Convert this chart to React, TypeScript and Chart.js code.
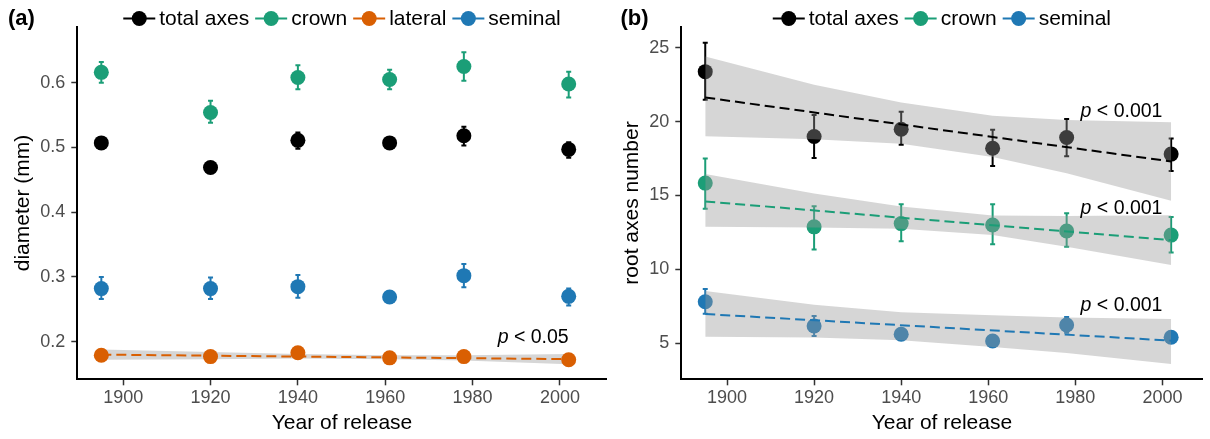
import React, { useEffect, useRef } from "react";
import { Chart, registerables } from "chart.js";

Chart.register(...registerables);

const FONT = "'Liberation Sans', Arial, Helvetica, sans-serif";

// ---------- shared ----------
const YEARS = [1895, 1920, 1940, 1961, 1978, 2002];
const TREND_YEARS = [1895, 2002];
const X_TICKS = [1900, 1920, 1940, 1960, 1980, 2000];
const A_Y_TICKS = [0.2, 0.3, 0.4, 0.5, 0.6];
const B_Y_TICKS = [5, 10, 15, 20, 25];
const A_LABELS = ["total axes", "crown", "lateral", "seminal"];
const B_LABELS = ["total axes", "crown", "seminal"];

// ---------- panel (a): diameter (mm) ----------
const A_TOTAL = [0.507, 0.469, 0.511, 0.507, 0.518, 0.497];
const A_TOTAL_LO = [0.502, 0.465, 0.498, 0.503, 0.503, 0.484];
const A_TOTAL_HI = [0.512, 0.473, 0.523, 0.511, 0.532, 0.508];
const A_CROWN = [0.616, 0.554, 0.608, 0.605, 0.625, 0.598];
const A_CROWN_LO = [0.6, 0.538, 0.59, 0.59, 0.603, 0.577];
const A_CROWN_HI = [0.632, 0.572, 0.627, 0.62, 0.647, 0.617];
const A_LATERAL = [0.179, 0.177, 0.183, 0.175, 0.177, 0.172];
const A_LATERAL_LO = [0.176, 0.174, 0.18, 0.172, 0.174, 0.169];
const A_LATERAL_HI = [0.182, 0.18, 0.186, 0.178, 0.18, 0.175];
const A_SEMINAL = [0.282, 0.282, 0.285, 0.269, 0.302, 0.27];
const A_SEMINAL_LO = [0.266, 0.266, 0.268, 0.265, 0.284, 0.256];
const A_SEMINAL_HI = [0.3, 0.299, 0.303, 0.273, 0.32, 0.282];
const A_LATERAL_TREND = [0.18, 0.173];
const A_LATERAL_RIB_HI = [0.188, 0.184, 0.181, 0.179, 0.179, 0.181];
const A_LATERAL_RIB_LO = [0.172, 0.173, 0.174, 0.173, 0.171, 0.165];

// ---------- panel (b): root axes number ----------
const B_TOTAL = [23.38, 18.99, 19.48, 18.2, 18.92, 17.8];
const B_TOTAL_LO = [21.47, 17.53, 18.43, 16.99, 17.66, 16.65];
const B_TOTAL_HI = [25.34, 20.45, 20.66, 19.44, 20.18, 18.85];
const B_CROWN = [15.84, 12.88, 13.1, 13.0, 12.6, 12.32];
const B_CROWN_LO = [14.1, 11.35, 11.9, 11.7, 11.53, 11.15];
const B_CROWN_HI = [17.5, 14.28, 14.4, 14.4, 13.8, 13.55];
const B_SEMINAL = [7.81, 6.17, 5.61, 5.16, 6.24, 5.41];
const B_SEMINAL_LO = [7.0, 5.5, 5.35, 4.95, 5.71, 5.1];
const B_SEMINAL_HI = [8.67, 6.85, 5.9, 5.35, 6.78, 5.7];
const B_TOTAL_TREND = [21.63, 17.3];
const B_TOTAL_RIB_HI = [24.4, 22.5, 21.3, 20.4, 20.1, 19.95];
const B_TOTAL_RIB_LO = [19.0, 18.8, 18.5, 17.6, 16.5, 14.65];
const B_CROWN_TREND = [14.6, 11.98];
const B_CROWN_RIB_HI = [16.45, 15.14, 14.25, 13.64, 13.61, 13.67];
const B_CROWN_RIB_LO = [12.88, 12.84, 12.75, 12.32, 11.53, 10.29];
const B_SEMINAL_TREND = [6.98, 5.18];
const B_SEMINAL_RIB_HI = [8.53, 7.6, 7.1, 6.9, 6.75, 6.64];
const B_SEMINAL_RIB_LO = [5.45, 5.4, 5.2, 4.75, 4.35, 3.6];

// p-value annotations (data coordinates, right aligned)
const A_P_LABELS = [{ x: 2002, y: 0.2057, text: "< 0.05" }];
const B_P_LABELS = [
  { x: 2000, y: 20.67, text: "< 0.001" },
  { x: 2000, y: 14.13, text: "< 0.001" },
  { x: 2000, y: 7.52, text: "< 0.001" },
];

const COLORS: Record<string, string> = {
  "total axes": "#000000",
  crown: "#1b9e77",
  lateral: "#d95f02",
  seminal: "#1f78b4",
};
const RIBBON = "rgba(153,153,153,0.4)";
const POINT_R = 7.5;

const pts = (xs: number[], ys: number[]) => xs.map((x, i) => ({ x, y: ys[i] }));

function pointSet(label: string, ys: number[], lo: number[], hi: number[], order: number) {
  return {
    type: "scatter",
    label,
    data: pts(YEARS, ys),
    errLo: lo,
    errHi: hi,
    backgroundColor: COLORS[label],
    borderColor: COLORS[label],
    pointRadius: POINT_R,
    pointHoverRadius: POINT_R,
    pointBorderWidth: 0,
    showLine: false,
    order,
  };
}
function trendSet(label: string, ys: number[], order: number) {
  return {
    type: "line",
    label: label + " trend",
    data: pts(TREND_YEARS, ys),
    borderColor: COLORS[label],
    borderWidth: 2,
    borderDash: [10, 5],
    pointRadius: 0,
    fill: false,
    order,
  };
}
function ribbonSets(label: string, hi: number[], lo: number[], order: number) {
  return [
    {
      type: "line",
      label: label + " ci hi",
      data: pts(YEARS, hi),
      borderWidth: 0,
      borderColor: "rgba(0,0,0,0)",
      backgroundColor: RIBBON,
      pointRadius: 0,
      fill: "+1",
      order,
    },
    {
      type: "line",
      label: label + " ci lo",
      data: pts(YEARS, lo),
      borderWidth: 0,
      borderColor: "rgba(0,0,0,0)",
      pointRadius: 0,
      fill: false,
      order,
    },
  ];
}

const errorBars = {
  id: "errorBars",
  beforeDatasetDraw(chart: any, args: any) {
    const ds: any = chart.data.datasets[args.index];
    if (!ds.errLo) return;
    const { ctx } = chart;
    const xs = chart.scales.x;
    const ys = chart.scales.y;
    const cap = 2.5;
    ctx.save();
    ctx.strokeStyle = ds.borderColor;
    ctx.lineWidth = 2;
    ds.data.forEach((p: any, i: number) => {
      const px = xs.getPixelForValue(p.x);
      const y1 = ys.getPixelForValue(ds.errLo[i]);
      const y2 = ys.getPixelForValue(ds.errHi[i]);
      ctx.beginPath();
      ctx.moveTo(px, y1);
      ctx.lineTo(px, y2);
      ctx.moveTo(px - cap, y1);
      ctx.lineTo(px + cap, y1);
      ctx.moveTo(px - cap, y2);
      ctx.lineTo(px + cap, y2);
      ctx.stroke();
    });
    ctx.restore();
  },
};

function decor(panelLabel: string, labelX: number, labels: string[], pLabels: any[]) {
  return {
    id: "decor",
    afterDraw(chart: any) {
      const { ctx, chartArea: area } = chart;
      ctx.save();
      ctx.textBaseline = "middle";
      ctx.textAlign = "left";
      ctx.fillStyle = "#000";
      ctx.font = `bold 22px ${FONT}`;
      ctx.fillText(panelLabel, labelX, 19);

      ctx.font = `21px ${FONT}`;
      const KEY = 32, GAP_KT = 4, GAP_IT = 6;
      const widths = labels.map((l) => ctx.measureText(l).width);
      const total =
        widths.reduce((a, b) => a + b, 0) + labels.length * (KEY + GAP_KT) + (labels.length - 1) * GAP_IT;
      let x = (area.left + area.right) / 2 - total / 2;
      const y = 18.5;
      labels.forEach((l, i) => {
        const c = COLORS[l];
        ctx.strokeStyle = c;
        ctx.lineWidth = 2;
        ctx.beginPath();
        ctx.moveTo(x, y);
        ctx.lineTo(x + KEY, y);
        ctx.stroke();
        ctx.fillStyle = c;
        ctx.beginPath();
        ctx.arc(x + KEY / 2, y, POINT_R, 0, Math.PI * 2);
        ctx.fill();
        x += KEY + GAP_KT;
        ctx.fillStyle = "#000";
        ctx.fillText(l, x, y + 1);
        x += widths[i] + GAP_IT;
      });

      pLabels.forEach((p) => {
        const px = chart.scales.x.getPixelForValue(p.x);
        const py = chart.scales.y.getPixelForValue(p.y);
        ctx.fillStyle = "#000";
        ctx.textAlign = "right";
        ctx.font = `19.5px ${FONT}`;
        const rest = " " + p.text;
        const wr = ctx.measureText(rest).width;
        ctx.fillText(rest, px, py);
        ctx.font = `italic 19.5px ${FONT}`;
        ctx.fillText("p", px - wr, py);
      });
      ctx.restore();
    },
  };
}

function makeScales(o: {
  xMin: number; xMax: number; yMin: number; yMax: number; yTicks: number[];
  yTitle: string; yFmt: (v: number) => string; yWidth: number; yTitlePad: number;
}) {
  return {
    x: {
      type: "linear",
      min: o.xMin,
      max: o.xMax,
      afterBuildTicks: (s: any) => {
        s.ticks = X_TICKS.map((v) => ({ value: v }));
      },
      afterFit: (s: any) => {
        s.height = 59.7;
      },
      ticks: {
        font: { family: FONT, size: 18 },
        color: "#4d4d4d",
        padding: 2,
        autoSkip: false,
        maxRotation: 0,
        callback: (v: any) => String(v),
      },
      grid: { display: true, drawOnChartArea: false, drawTicks: true, tickLength: 6, tickColor: "#333", tickWidth: 1.5 },
      border: { display: true, color: "#000", width: 2 },
      title: {
        display: true,
        text: "Year of release",
        font: { family: FONT, size: 21 },
        color: "#000",
        padding: { top: 0, bottom: 3.4 },
      },
    },
    y: {
      type: "linear",
      min: o.yMin,
      max: o.yMax,
      afterBuildTicks: (s: any) => {
        s.ticks = o.yTicks.map((v) => ({ value: v }));
      },
      afterFit: (s: any) => {
        s.width = o.yWidth;
      },
      ticks: {
        font: { family: FONT, size: 18 },
        color: "#4d4d4d",
        padding: 6,
        callback: (v: any) => o.yFmt(Number(v)),
      },
      grid: { display: true, drawOnChartArea: false, drawTicks: true, tickLength: 6, tickColor: "#333", tickWidth: 1.5 },
      border: { display: true, color: "#000", width: 2 },
      title: {
        display: true,
        text: o.yTitle,
        font: { family: FONT, size: 21 },
        color: "#000",
        padding: { top: o.yTitlePad, bottom: 0 },
      },
    },
  };
}

function baseOptions(scales: any, rightPad: number) {
  return {
    animation: false,
    responsive: false,
    maintainAspectRatio: false,
    devicePixelRatio: 1,
    events: [],
    layout: { padding: { top: 26.7, right: rightPad, bottom: 0, left: 0 } },
    plugins: { legend: { display: false }, tooltip: { enabled: false } },
    scales,
  };
}

export default function App() {
  const refA = useRef<HTMLCanvasElement>(null);
  const refB = useRef<HTMLCanvasElement>(null);

  useEffect(() => {
    const chartA = new Chart(refA.current as HTMLCanvasElement, {
      type: "scatter",
      data: {
        datasets: [
          pointSet("total axes", A_TOTAL, A_TOTAL_LO, A_TOTAL_HI, 0),
          pointSet("crown", A_CROWN, A_CROWN_LO, A_CROWN_HI, 0),
          pointSet("lateral", A_LATERAL, A_LATERAL_LO, A_LATERAL_HI, 0),
          pointSet("seminal", A_SEMINAL, A_SEMINAL_LO, A_SEMINAL_HI, 0),
          trendSet("lateral", A_LATERAL_TREND, 1),
          ...ribbonSets("lateral", A_LATERAL_RIB_HI, A_LATERAL_RIB_LO, 2),
        ] as any,
      },
      options: baseOptions(
        makeScales({
          xMin: 1889.5, xMax: 2010.7, yMin: 0.1419, yMax: 0.6865, yTicks: A_Y_TICKS,
          yTitle: "diameter (mm)", yFmt: (v) => v.toFixed(1), yWidth: 77.3, yTitlePad: 10.4,
        }),
        8.3
      ) as any,
      plugins: [errorBars, decor("(a)", 8, A_LABELS, A_P_LABELS)],
    });

    const chartB = new Chart(refB.current as HTMLCanvasElement, {
      type: "scatter",
      data: {
        datasets: [
          pointSet("total axes", B_TOTAL, B_TOTAL_LO, B_TOTAL_HI, 2),
          pointSet("crown", B_CROWN, B_CROWN_LO, B_CROWN_HI, 2),
          pointSet("seminal", B_SEMINAL, B_SEMINAL_LO, B_SEMINAL_HI, 2),
          ...ribbonSets("total axes", B_TOTAL_RIB_HI, B_TOTAL_RIB_LO, 1),
          ...ribbonSets("crown", B_CROWN_RIB_HI, B_CROWN_RIB_LO, 1),
          ...ribbonSets("seminal", B_SEMINAL_RIB_HI, B_SEMINAL_RIB_LO, 1),
          trendSet("total axes", B_TOTAL_TREND, 0),
          trendSet("crown", B_CROWN_TREND, 0),
          trendSet("seminal", B_SEMINAL_TREND, 0),
        ] as any,
      },
      options: baseOptions(
        makeScales({
          xMin: 1889.5, xMax: 2009.2, yMin: 2.564, yMax: 26.42, yTicks: B_Y_TICKS,
          yTitle: "root axes number", yFmt: (v) => String(v), yWidth: 76.3, yTitlePad: 14.9,
        }),
        0
      ) as any,
      plugins: [errorBars, decor("(b)", 15.4, B_LABELS, B_P_LABELS)],
    });

    return () => {
      chartA.destroy();
      chartB.destroy();
    };
  }, []);

  return (
    <div style={{ position: "absolute", left: 0, top: 0, width: 1210, height: 439, background: "#fff" }}>
      <canvas ref={refA} width={615} height={439} style={{ position: "absolute", left: 0, top: 0 }} />
      <canvas ref={refB} width={605} height={439} style={{ position: "absolute", left: 605, top: 0 }} />
    </div>
  );
}
